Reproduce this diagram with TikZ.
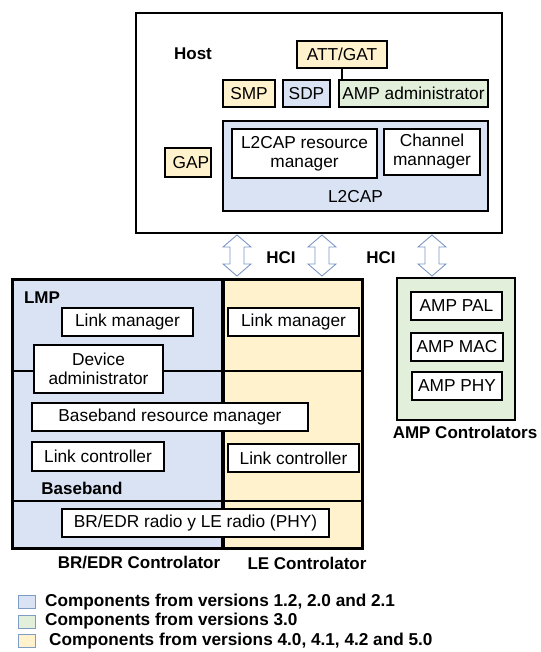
\documentclass[tikz,border=0pt]{standalone}
\usepackage{fontspec}
\setmainfont{Liberation Sans}
\definecolor{fillblue}{HTML}{DAE3F3}
\definecolor{fillgreen}{HTML}{E2EFDA}
\definecolor{fillyellow}{HTML}{FFF2CC}
\definecolor{arrowblue}{HTML}{7C97C4}
\definecolor{legendedge}{HTML}{7F9CC5}
\tikzset{
  box/.style={draw=black, line width=2.3pt, rectangle, inner sep=0pt, align=center,
    font=\fontsize{17.3}{19}\selectfont},
  whitebox/.style={box, fill=white},
  bluebox/.style={box, fill=fillblue},
  greenbox/.style={box, fill=fillgreen},
  yellowbox/.style={box, fill=fillyellow},
  lbl/.style={inner sep=0pt, font=\fontsize{17.3}{19}\selectfont},
  boldlbl/.style={inner sep=0pt, font=\fontsize{17}{19}\selectfont\bfseries},
  hciarrow/.style={draw=arrowblue, fill=white, line width=0.9pt, line join=miter},
  sep/.style={draw=black, line width=1.1pt},
  swatch/.style={draw=legendedge, line width=1pt, rectangle, minimum width=17pt,
    minimum height=13pt, inner sep=0pt},
  legendtext/.style={inner sep=0pt, anchor=west, font=\fontsize{17.2}{19}\selectfont\bfseries}
}
\begin{document}
\begin{tikzpicture}[x=1pt, y=-1pt]
\useasboundingbox (0,0) rectangle (540,652);

% ---------------- Host ----------------
\node[box, fill=white, line width=2.6pt, minimum width=366pt, minimum height=220pt] (host) at (319,123) {};
\node[boldlbl] (hostlbl) at (193,54) {Host};
\node[yellowbox, minimum width=90pt, minimum height=27pt] (att) at (342,54.5) {ATT/GAT};
\node[yellowbox, minimum width=52pt, minimum height=27pt] (smp) at (249,93.5) {SMP};
\node[bluebox, minimum width=47pt, minimum height=27pt] (sdp) at (306.5,93.5) {SDP};
\node[greenbox, minimum width=149pt, minimum height=27pt] (ampadm) at (413.5,93.5) {AMP administrator};
\draw[line width=1.4pt] (att.south) -- (att.south |- ampadm.north);
\node[bluebox, minimum width=265pt, minimum height=90pt] (l2cap) at (355.5,166) {};
\node[lbl] (l2caplbl) at (355.5,197) {L2CAP};
\node[whitebox, minimum width=145pt, minimum height=49pt] (l2res) at (304.5,153.5) {L2CAP resource\\manager};
\node[whitebox, minimum width=96pt, minimum height=46pt] (chan) at (432,152) {Channel\\mannager};
\node[yellowbox, minimum width=46pt, minimum height=29pt] (gap) at (188,162.5) {\hspace*{6pt}GAP};

% ---------------- Controllers ----------------
\node[bluebox, minimum width=210pt, minimum height=268pt] (bredr) at (118,414) {};
\node[yellowbox, minimum width=139pt, minimum height=268pt] (le) at (292.5,414) {};
\coordinate (lmpL) at (13,371);
\coordinate (lmpR) at (362,371);
\coordinate (bbL) at (13,501);
\coordinate (bbR) at (362,501);
\draw[sep] (lmpL) -- (lmpR);
\draw[sep] (bbL) -- (bbR);
\draw[box, fill=none] (bredr.north west) rectangle (bredr.south east);
\draw[box, fill=none] (le.north west) rectangle (le.south east);

\node[boldlbl] (lmplbl) at (42,298) {LMP};
\node[whitebox, minimum width=131pt, minimum height=28pt] (lm1) at (127.5,322) {Link manager};
\node[whitebox, minimum width=131pt, minimum height=28pt] (lm2) at (293.5,322) {Link manager};
\node[whitebox, minimum width=129pt, minimum height=48pt] (devadm) at (98.5,369) {Device\\administrator};
\node[whitebox, minimum width=276pt, minimum height=28pt] (bbres) at (170,417) {Baseband resource manager};
\node[whitebox, minimum width=132pt, minimum height=29pt] (lc1) at (98,456.5) {Link controller};
\node[whitebox, minimum width=131pt, minimum height=28pt] (lc2) at (293.5,458) {Link controller};
\node[boldlbl] (bblbl) at (82,488) {Baseband};
\node[whitebox, minimum width=267pt, minimum height=28pt] (radio) at (195.5,523) {BR/EDR radio y LE radio (PHY)};
\node[boldlbl] (bredrlbl) at (139,563) {BR/EDR Controlator};
\node[boldlbl] (lelbl) at (307,563) {LE Controlator};

% ---------------- AMP ----------------
\node[greenbox, minimum width=118pt, minimum height=142pt] (amp) at (456,349) {};
\node[whitebox, minimum width=91pt, minimum height=28pt] (pal) at (456.5,306) {AMP PAL};
\node[whitebox, minimum width=92pt, minimum height=28pt] (mac) at (457,347) {AMP MAC};
\node[whitebox, minimum width=90pt, minimum height=28pt] (phy) at (457,386) {AMP PHY};
\node[boldlbl] (amplbl) at (465,432) {AMP Controlators};

% ---------------- HCI links (hollow double arrows) ----------------
\coordinate (hci1) at (237,235);
\coordinate (hci2) at (322,235);
\coordinate (hci3) at (432,235);
\foreach \c in {hci1,hci2,hci3}{
  \draw[hciarrow] (\c) -- ++(14,12) -- ++(-7,0) -- ++(0,17) -- ++(7,0) -- ++(-14,12)
    -- ++(-14,-12) -- ++(7,0) -- ++(0,-17) -- ++(-7,0) -- cycle;
}
\node[boldlbl] (hcilbl1) at (281,258) {HCI};
\node[boldlbl] (hcilbl2) at (381,258) {HCI};

% ---------------- Legend ----------------
\node[swatch, fill=fillblue] (sw1) at (26.5,602) {};
\node[swatch, fill=fillgreen] (sw2) at (26.5,621.5) {};
\node[swatch, fill=fillyellow] (sw3) at (26.5,641) {};
\node[legendtext] (lg1) at (45,602) {Components from versions 1.2, 2.0 and 2.1};
\node[legendtext] (lg2) at (45,621.5) {Components from versions 3.0};
\node[legendtext] (lg3) at (49,641) {Components from versions 4.0, 4.1, 4.2 and 5.0};
\end{tikzpicture}
\end{document}
